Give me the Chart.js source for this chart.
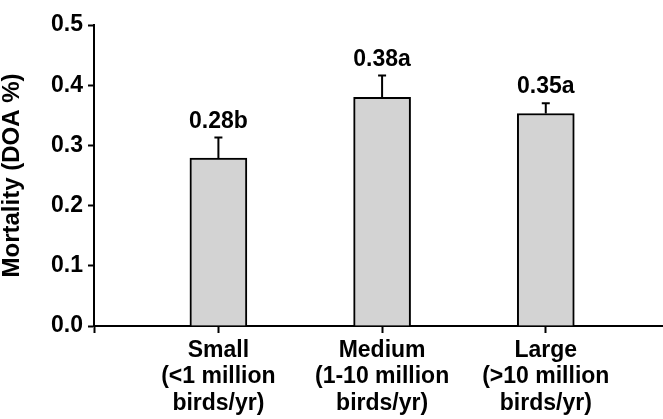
<!DOCTYPE html>
<html>
<head>
<meta charset="utf-8">
<script src="https://cdn.jsdelivr.net/npm/chart.js@4"></script>
<style>
  html, body { margin: 0; padding: 0; background: #fff; }
  #wrap { width: 663px; height: 419px; }
</style>
</head>
<body>
<div id="wrap"><canvas id="mortChart" width="663" height="419"></canvas></div>
<script>
// datos
const categories = [
    ['Small', '(<1 million', 'birds/yr)'],
    ['Medium', '(1-10 million', 'birds/yr)'],
    ['Large', '(>10 million', 'birds/yr)']
];
const positions = [1, 2, 3];
const mortality = [0.279, 0.380, 0.353];
const errUp = [0.034, 0.036, 0.017];
const barLabels = ['0.28b', '0.38a', '0.35a'];
const yTicks = [0, 0.1, 0.2, 0.3, 0.4, 0.5];

const X_MIN = 0.24;
const X_MAX = 3.71;
const FONT = "'Liberation Sans', Arial, sans-serif";

Chart.defaults.font.family = FONT;
Chart.defaults.color = '#000';

// barras de error (solo hacia arriba) + etiquetas de valor
const errorBars = {
    id: 'errorBars',
    afterDatasetsDraw(chart) {
        const ctx = chart.ctx;
        const yScale = chart.scales.y;
        const meta = chart.getDatasetMeta(0);
        ctx.save();
        ctx.strokeStyle = '#000';
        ctx.lineWidth = 2;
        meta.data.forEach((bar, i) => {
            const top = yScale.getPixelForValue(mortality[i] + errUp[i]);
            ctx.beginPath();
            ctx.moveTo(bar.x, bar.y);
            ctx.lineTo(bar.x, top);
            ctx.moveTo(bar.x - 4, top);
            ctx.lineTo(bar.x + 4, top);
            ctx.stroke();

            ctx.fillStyle = '#000';
            ctx.font = 'bold 23px ' + FONT;
            ctx.textAlign = 'center';
            ctx.textBaseline = 'alphabetic';
            ctx.fillText(barLabels[i], bar.x, top - 10);
        });
        ctx.restore();
    }
};

new Chart(document.getElementById('mortChart'), {
    type: 'bar',
    data: {
        datasets: [{
            data: positions.map((p, i) => ({ x: p, y: mortality[i] })),
            backgroundColor: '#d3d3d3',
            borderColor: '#000',
            borderWidth: 2,
            borderSkipped: 'bottom',
            barThickness: 57
        }]
    },
    options: {
        responsive: false,
        animation: false,
        layout: { padding: { top: 25, right: 1, left: 0, bottom: 0 } },
        plugins: {
            legend: { display: false },
            tooltip: { enabled: false }
        },
        scales: {
            x: {
                type: 'linear',
                min: X_MIN,
                max: X_MAX,
                offset: false,
                afterBuildTicks: (s) => {
                    s.ticks = [X_MIN].concat(positions).map(v => ({ value: v }));
                },
                afterFit: (s) => { s.height = 93; },
                grid: {
                    offset: false,
                    drawOnChartArea: false,
                    drawTicks: true,
                    tickLength: 7,
                    tickColor: '#000',
                    tickWidth: 2
                },
                border: { display: true, color: '#000', width: 2 },
                ticks: {
                    autoSkip: false,
                    maxRotation: 0,
                    padding: 4,
                    font: { size: 23, weight: 'bold', lineHeight: 1.16 },
                    callback: (value) => {
                        const idx = positions.indexOf(value);
                        return idx >= 0 ? categories[idx] : '';
                    }
                }
            },
            y: {
                min: 0,
                max: 0.5,
                afterBuildTicks: (s) => {
                    s.ticks = yTicks.map(v => ({ value: v }));
                },
                afterFit: (s) => { s.width = 94; },
                grid: {
                    drawOnChartArea: false,
                    drawTicks: true,
                    tickLength: 6,
                    tickColor: '#000',
                    tickWidth: 2
                },
                border: { display: true, color: '#000', width: 2 },
                ticks: {
                    padding: 5,
                    font: { size: 23, weight: 'bold' },
                    callback: (value) => value.toFixed(1)
                },
                title: {
                    display: true,
                    text: 'Mortality (DOA %)',
                    font: { size: 24, weight: 'bold', lineHeight: 1 },
                    padding: 0
                }
            }
        }
    },
    plugins: [errorBars]
});
</script>
</body>
</html>
